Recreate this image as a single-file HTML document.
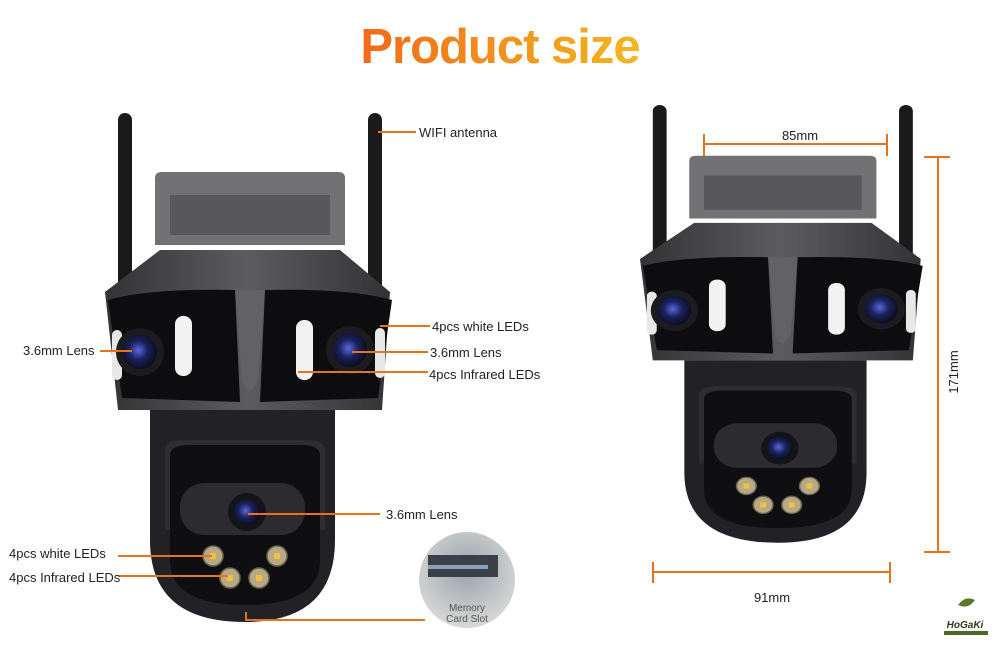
<!DOCTYPE html>
<html><head><meta charset="utf-8"><style>
html,body{margin:0;padding:0;background:#fff}
svg{display:block}
text{font-family:"Liberation Sans",Arial,sans-serif}
</style></head><body>
<svg width="1000" height="650" viewBox="0 0 1000 650" xmlns="http://www.w3.org/2000/svg">
<defs>
<linearGradient id="tg" x1="0" x2="1"><stop offset="0" stop-color="#f26a1b"/><stop offset="1" stop-color="#f2b81f"/></linearGradient>
<radialGradient id="lens" cx="0.45" cy="0.45" r="0.6"><stop offset="0" stop-color="#5a6ad8"/><stop offset="0.45" stop-color="#1b2260"/><stop offset="1" stop-color="#0a0a12"/></radialGradient>
<radialGradient id="mc" cx="0.5" cy="0.4" r="0.6"><stop offset="0" stop-color="#9aa3a8"/><stop offset="1" stop-color="#d8d8d8"/></radialGradient>
<linearGradient id="body" x1="0" x2="1"><stop offset="0" stop-color="#333336"/><stop offset="0.5" stop-color="#5c5c60"/><stop offset="1" stop-color="#333336"/></linearGradient>
<g id="cam">
  <rect x="118" y="113" width="14" height="180" rx="7" fill="#1a1a1a"/>
  <rect x="368" y="113" width="14" height="180" rx="7" fill="#1a1a1a"/>
  <path d="M155 178 Q155 172 162 172 L338 172 Q345 172 345 178 L345 245 L155 245 Z" fill="#727274"/>
  <rect x="170" y="195" width="160" height="40" fill="#58585a"/>
  <path d="M160 250 L340 250 L390 292 L382 410 L118 410 L105 292 Z" fill="url(#body)"/>
  <path d="M108 300 Q150 288 235 290 L240 402 L122 398 Z" fill="#0d0d0f"/>
  <path d="M392 300 Q350 288 265 290 L260 402 L378 398 Z" fill="#0d0d0f"/>
  <path d="M235 290 L265 290 L258 380 Q250 400 242 380 Z" fill="#626266"/>
  <rect x="175" y="316" width="17" height="60" rx="8" fill="#f2f2f2"/>
  <rect x="296" y="320" width="17" height="60" rx="8" fill="#f2f2f2"/>
  <rect x="112" y="330" width="10" height="50" rx="5" fill="#e8e8e8"/>
  <rect x="375" y="328" width="10" height="50" rx="5" fill="#e8e8e8"/>
  <circle cx="140" cy="352" r="24" fill="#1c1c20"/><circle cx="140" cy="352" r="17" fill="url(#lens)"/>
  <circle cx="350" cy="350" r="24" fill="#1c1c20"/><circle cx="350" cy="350" r="17" fill="url(#lens)"/>
  <path d="M150 410 L335 410 L335 540 Q335 622 245 622 Q150 622 150 540 Z" fill="#222226"/>
  <path d="M165 450 Q165 440 185 440 L305 440 Q325 440 325 450 L325 530 L165 530 Z" fill="#2e2e32"/>
  <path d="M170 455 Q170 445 190 445 L300 445 Q320 445 320 455 L320 560 Q320 605 245 605 Q170 605 170 560 Z" fill="#0f0f11"/>
  <rect x="180" y="483" width="125" height="52" rx="24" fill="#2c2c30"/>
  <circle cx="247" cy="512" r="19" fill="#141418"/><circle cx="247" cy="512" r="13" fill="url(#lens)"/>
  <g fill="#b7a985" stroke="#6c6450" stroke-width="1.5">
   <circle cx="213" cy="556" r="10"/><circle cx="277" cy="556" r="10"/><circle cx="230" cy="578" r="10"/><circle cx="259" cy="578" r="10"/>
  </g>
  <g fill="#f0c040">
   <rect x="210" y="553" width="6" height="6"/><rect x="274" y="553" width="6" height="6"/><rect x="227" y="575" width="6" height="6"/><rect x="256" y="575" width="6" height="6"/>
  </g>
</g>
</defs>
<text x="500" y="63" text-anchor="middle" font-size="49" font-weight="bold" fill="url(#tg)" letter-spacing="-1">Product size</text>

<use href="#cam"/>
<g transform="translate(640,105) scale(0.985,0.86) translate(-105,-113)"><use href="#cam"/></g>

<g stroke="#e8731a" stroke-width="2" fill="none">
 <line x1="378" y1="132" x2="416" y2="132"/>
 <line x1="100" y1="351" x2="132" y2="351"/>
 <line x1="380" y1="326" x2="430" y2="326"/>
 <line x1="352" y1="352" x2="428" y2="352"/>
 <line x1="298" y1="372" x2="428" y2="372"/>
 <line x1="248" y1="514" x2="380" y2="514"/>
 <line x1="118" y1="556" x2="212" y2="556"/>
 <line x1="118" y1="576" x2="228" y2="576"/>
 <polyline points="246,612 246,620 425,620"/>
 <line x1="704" y1="144" x2="887" y2="144"/><line x1="704" y1="134" x2="704" y2="156"/><line x1="887" y1="134" x2="887" y2="156"/>
 <line x1="938" y1="157" x2="938" y2="552"/><line x1="924" y1="157" x2="950" y2="157"/><line x1="924" y1="552" x2="950" y2="552"/>
 <line x1="653" y1="572" x2="890" y2="572"/><line x1="653" y1="562" x2="653" y2="583"/><line x1="890" y1="562" x2="890" y2="583"/>
</g>
<circle cx="467" cy="580" r="48" fill="url(#mc)"/>
<rect x="428" y="555" width="70" height="22" fill="#3a4048"/>
<rect x="428" y="565" width="60" height="4" fill="#8aa0b8"/>
<text x="467" y="611" text-anchor="middle" font-size="10" fill="#555">Memory</text>
<text x="467" y="622" text-anchor="middle" font-size="10" fill="#555">Card Slot</text>

<g font-size="13" fill="#222">
 <text x="419" y="137">WIFI antenna</text>
 <text x="23" y="355">3.6mm Lens</text>
 <text x="432" y="331">4pcs white LEDs</text>
 <text x="430" y="357">3.6mm Lens</text>
 <text x="429" y="379">4pcs Infrared LEDs</text>
 <text x="386" y="519">3.6mm Lens</text>
 <text x="9" y="558">4pcs white LEDs</text>
 <text x="9" y="582">4pcs Infrared LEDs</text>
 <text x="800" y="140" text-anchor="middle">85mm</text>
 <text x="772" y="602" text-anchor="middle">91mm</text>
 <text transform="translate(958,372) rotate(-90)" text-anchor="middle">171mm</text>
</g>
<path d="M958 605 Q965 595 975 600 Q968 610 958 605 Z" fill="#5a7a2a"/>
<text x="965" y="628" text-anchor="middle" font-size="10" font-style="italic" font-weight="bold" fill="#2a3a1a" font-family="Liberation Serif,serif">HoGaKi</text>
<rect x="944" y="631" width="44" height="4" fill="#4a6a2a"/>
</svg>
</body></html>
